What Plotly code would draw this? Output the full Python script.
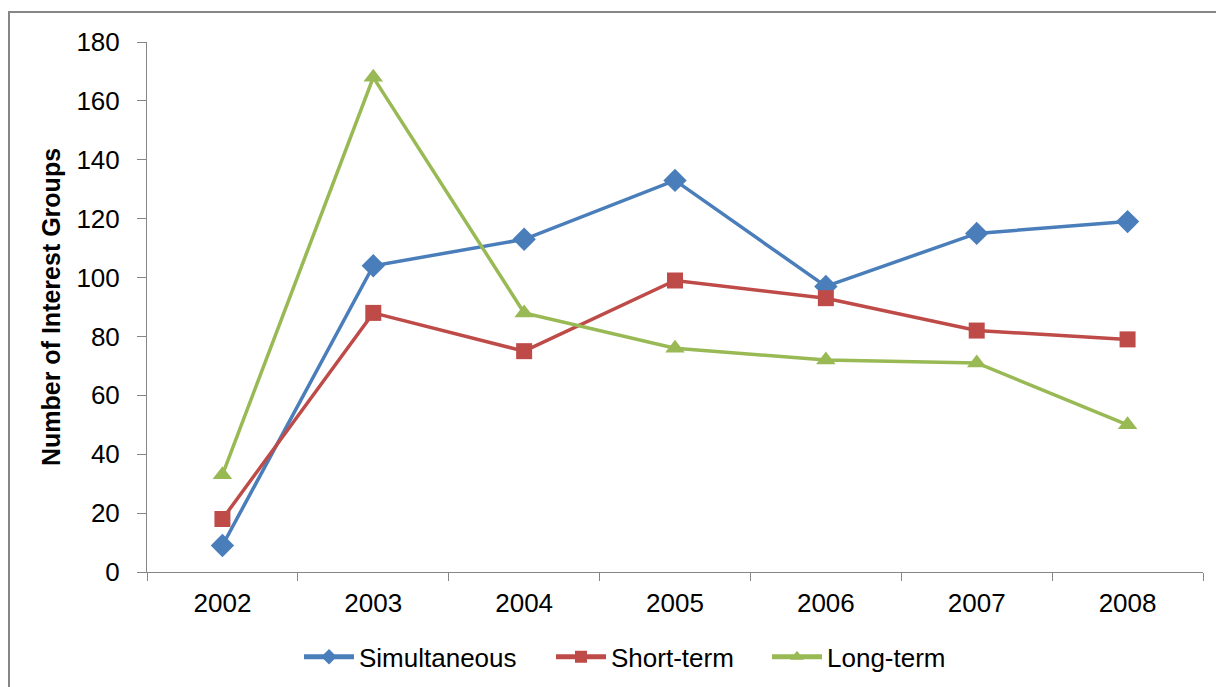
import plotly.graph_objects as go

years = ["2002", "2003", "2004", "2005", "2006", "2007", "2008"]
simultaneous = [9, 104, 113, 133, 97, 115, 119]
short_term = [18, 88, 75, 99, 93, 82, 79]
long_term = [33, 168, 88, 76, 72, 71, 50]

y_ticks = [0, 20, 40, 60, 80, 100, 120, 140, 160, 180]

FONT = "Liberation Sans, Arial, sans-serif"
AXIS_COLOR = "#868686"

# page body has an 8px margin, so the figure is sized/offset to compensate
W, H = 1216, 679
L, T = 139, 34
PW, PH = 1056, 530
PLOT_LEFT = 147  # screen x of plot area left edge

series = [
    ("Simultaneous", simultaneous, "#4A7EBB", "diamond", 18, "legend", 360),
    ("Short-term", short_term, "#BE4B48", "square", 16, "legend2", 612),
    ("Long-term", long_term, "#98B954", "triangle-up", 17, "legend3", 828),
]

fig = go.Figure()
legends = {}
for name, vals, color, sym, size, lg, text_x in series:
    fig.add_trace(go.Scatter(
        x=years, y=vals, name=name, mode="lines+markers",
        line=dict(color=color, width=3.5),
        marker=dict(symbol=sym, size=size, color=color, line=dict(width=0)),
        legend=lg,
    ))
    legends[lg] = dict(
        orientation="h", x=(text_x - 61 - PLOT_LEFT) / PW, xanchor="left",
        y=-0.16, yanchor="middle", font=dict(size=26), itemwidth=50,
        itemsizing="constant", bgcolor="rgba(0,0,0,0)",
    )

fig.update_layout(
    width=W, height=H,
    margin=dict(l=L, r=W - L - PW, t=T, b=H - T - PH, autoexpand=False),
    paper_bgcolor="white", plot_bgcolor="white",
    font=dict(family=FONT, size=26, color="#000000"),
    showlegend=True,
    shapes=[dict(type="rect", xref="paper", yref="paper",
                 x0=(9 - 147) / PW, x1=1.2, y0=-0.4, y1=(572 - 12) / PH,
                 line=dict(color=AXIS_COLOR, width=2), layer="below")],
    **legends,
)

fig.update_xaxes(
    type="category", categoryorder="array", categoryarray=years,
    range=[-0.5, 6.5], tickson="boundaries",
    showline=True, linecolor=AXIS_COLOR, linewidth=1,
    ticks="outside", ticklen=8, tickcolor=AXIS_COLOR,
    showgrid=False, zeroline=False, ticklabelstandoff=8,
    tickfont=dict(size=26),
)
fig.update_yaxes(
    range=[0, 180], tickvals=y_ticks,
    showline=True, linecolor=AXIS_COLOR, linewidth=1,
    ticks="outside", ticklen=9, tickcolor=AXIS_COLOR,
    showgrid=False, zeroline=False, ticklabelstandoff=12,
    tickfont=dict(size=26),
    title=dict(text="<b>Number of Interest Groups</b>", font=dict(size=25), standoff=8),
)

fig.write_html("out.html")
